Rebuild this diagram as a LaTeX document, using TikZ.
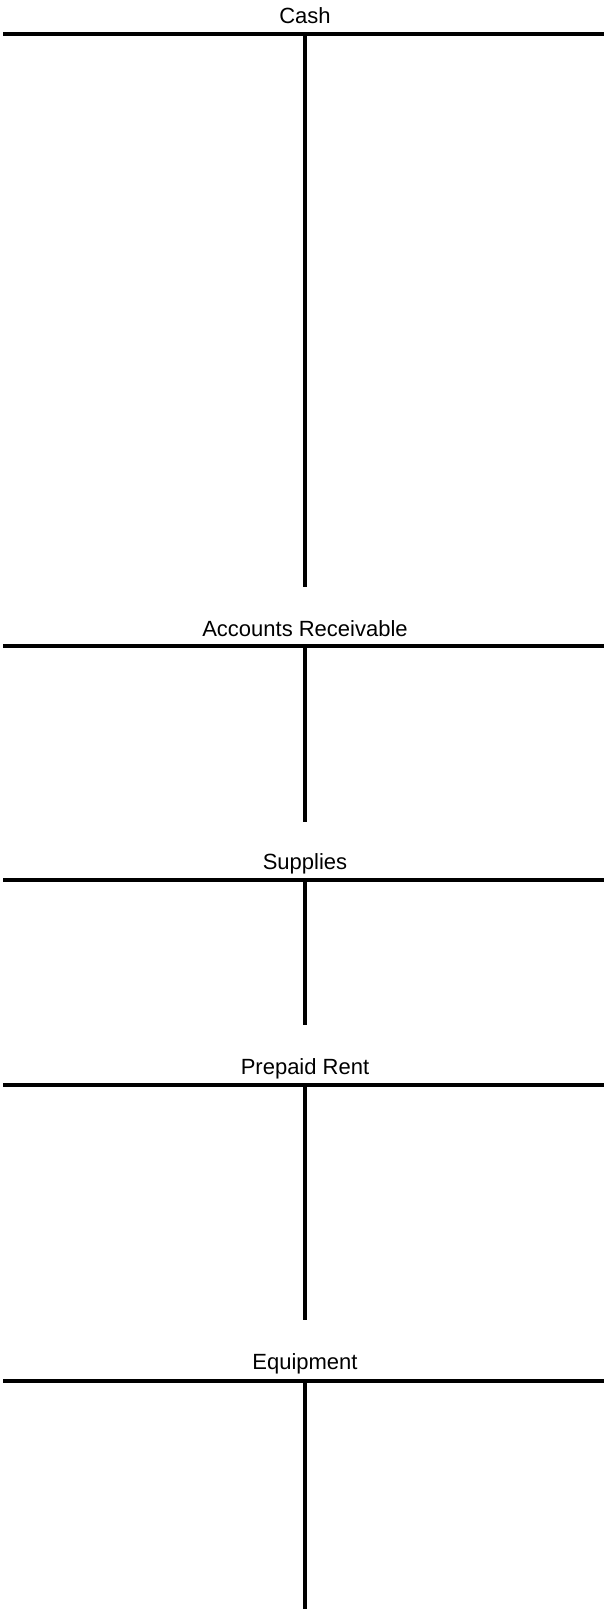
\documentclass[tikz,border=0pt]{standalone}
\usepackage{fontspec}
\setmainfont{Liberation Sans}
\begin{document}
\begin{tikzpicture}[x=1pt,y=-1pt,
  rule/.style={line width=4pt,black},
  title/.style={anchor=base,inner sep=0pt,font=\fontsize{22}{26}\selectfont}]
\useasboundingbox (0,0) rectangle (605,1610);
% Cash
\coordinate (cL) at (3,34); \coordinate (cR) at (604,34);
\coordinate (cT) at (305,34); \coordinate (cB) at (305,587);
\node[title] (cash) at (305,23) {Cash};
\draw[rule] (cL) -- (cR);
\draw[rule] (cT) -- (cB);
% Accounts Receivable
\coordinate (aL) at (3,646); \coordinate (aR) at (604,646);
\coordinate (aT) at (305,646); \coordinate (aB) at (305,822);
\node[title] (ar) at (305,636) {Accounts Receivable};
\draw[rule] (aL) -- (aR);
\draw[rule] (aT) -- (aB);
% Supplies
\coordinate (sL) at (3,880); \coordinate (sR) at (604,880);
\coordinate (sT) at (305,880); \coordinate (sB) at (305,1025);
\node[title] (sup) at (305,869) {Supplies};
\draw[rule] (sL) -- (sR);
\draw[rule] (sT) -- (sB);
% Prepaid Rent
\coordinate (pL) at (3,1085); \coordinate (pR) at (604,1085);
\coordinate (pT) at (305,1085); \coordinate (pB) at (305,1320);
\node[title] (pr) at (305,1074) {Prepaid Rent};
\draw[rule] (pL) -- (pR);
\draw[rule] (pT) -- (pB);
% Equipment
\coordinate (eL) at (3,1381); \coordinate (eR) at (604,1381);
\coordinate (eT) at (305,1381); \coordinate (eB) at (305,1609);
\node[title] (eq) at (305,1369) {Equipment};
\draw[rule] (eL) -- (eR);
\draw[rule] (eT) -- (eB);
\end{tikzpicture}
\end{document}
